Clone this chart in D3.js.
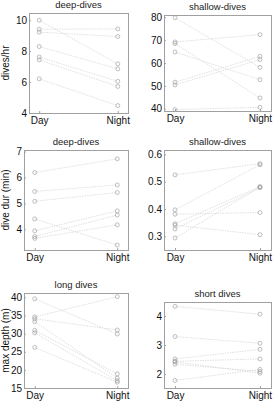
<!DOCTYPE html>
<html>
<head>
<meta charset="utf-8">
<script src="https://d3js.org/d3.v7.min.js"></script>
<style>
  body { margin: 0; background: #fff; }
  svg text { font-family: "Liberation Sans", Arial, sans-serif; }
</style>
</head>
<body>
<div id="chart"></div>
<script>
// x categories
const periods = ["Day", "Night"];

// dive rate (dives/hr)
const deepRateDay   = [10.0, 9.42, 9.23, 8.30, 7.62, 7.44, 6.21];
const deepRateNight = [7.18, 9.44, 8.95, 6.86, 6.05, 5.72, 4.48];
const shallowRateDay   = [79.8, 69.2, 68.5, 64.8, 51.6, 50.4, 39.6];
const shallowRateNight = [58.1, 72.4, 44.7, 52.7, 62.9, 61.5, 40.6];

// dive duration (min)
const deepDurDay   = [6.19, 5.46, 5.08, 4.40, 3.94, 3.72, 3.65];
const deepDurNight = [6.72, 5.71, 5.42, 3.39, 4.71, 4.55, 4.17];
const shallowDurDay   = [0.525, 0.397, 0.381, 0.346, 0.341, 0.327, 0.294];
const shallowDurNight = [0.566, 0.562, 0.387, 0.482, 0.306, 0.478, 0.480];

// max depth (m)
const longDepthDay   = [39.6, 34.6, 34.1, 33.3, 30.9, 30.2, 26.2];
const longDepthNight = [29.9, 40.2, 31.0, 17.7, 18.9, 17.0, 16.6];
const shortDepthDay   = [4.33, 3.29, 2.52, 2.44, 2.42, 2.34, 1.78];
const shortDepthNight = [4.06, 3.06, 2.85, 2.52, 2.03, 2.09, 2.16];

// y ticks
const ticksRateDeep = [4, 6, 8, 10];
const ticksRateShallow = [40, 50, 60, 70, 80];
const ticksDurDeep = [4, 5, 6, 7];
const ticksDurShallow = [0.3, 0.4, 0.5, 0.6];
const ticksDepthLong = [15, 20, 25, 30, 35, 40];
const ticksDepthShort = [2, 3, 4];

const panels = [
  { title: "deep-dives", ylab: "dives/hr", day: deepRateDay, night: deepRateNight,
    dom: [4, 10.47], ticks: ticksRateDeep, box: [29, 13, 128, 113], fmt: d => d },
  { title: "shallow-dives", ylab: null, day: shallowRateDay, night: shallowRateNight,
    dom: [39.0, 81.0], ticks: ticksRateShallow, box: [164, 15, 271, 111], fmt: d => d },
  { title: "deep-dives", ylab: "dive dur (min)", day: deepDurDay, night: deepDurNight,
    dom: [3.2, 7.06], ticks: ticksDurDeep, box: [24, 150, 128, 250], fmt: d => d },
  { title: "shallow-dives", ylab: null, day: shallowDurDay, night: shallowDurNight,
    dom: [0.25, 0.616], ticks: ticksDurShallow, box: [164, 150, 271, 250], fmt: d => d.toFixed(1) },
  { title: "long dives", ylab: "max depth (m)", day: longDepthDay, night: longDepthNight,
    dom: [15, 41.2], ticks: ticksDepthLong, box: [24, 293, 128, 388], fmt: d => d },
  { title: "short dives", ylab: null, day: shortDepthDay, night: shortDepthNight,
    dom: [1.52, 4.48], ticks: ticksDepthShort, box: [164, 302, 271, 388], fmt: d => d }
];

const svg = d3.select("#chart").append("svg")
  .attr("width", 275).attr("height", 410);

panels.forEach(p => {
  const [x0, y0, x1, y1] = p.box;
  const x = d3.scalePoint().domain(periods).range([x0, x1]).padding(0.13);
  const y = d3.scaleLinear().domain(p.dom).range([y1, y0]);
  const g = svg.append("g");

  // pair lines
  p.day.forEach((v, i) => {
    g.append("line")
      .attr("x1", x("Day")).attr("y1", y(v))
      .attr("x2", x("Night")).attr("y2", y(p.night[i]))
      .attr("stroke", "#d2d2d2").attr("stroke-width", 0.7)
      .attr("stroke-dasharray", "1.5,1");
  });

  // points
  periods.forEach(per => {
    const vals = per === "Day" ? p.day : p.night;
    g.selectAll(null).data(vals).enter().append("circle")
      .attr("cx", x(per)).attr("cy", d => y(d)).attr("r", 2)
      .attr("fill", "none").attr("stroke", "#959595").attr("stroke-width", 0.6);
  });

  // box
  g.append("rect")
    .attr("x", x0).attr("y", y0).attr("width", x1 - x0).attr("height", y1 - y0)
    .attr("fill", "none").attr("stroke", "#a0a0a0").attr("stroke-width", 1)
    .attr("shape-rendering", "crispEdges");

  // y axis
  const ya = g.append("g").attr("transform", `translate(${x0},0)`)
    .call(d3.axisLeft(y).tickValues(p.ticks).tickSize(-2).tickPadding(2).tickFormat(p.fmt));
  ya.select(".domain").remove();
  ya.selectAll("line").attr("stroke", "#a0a0a0");
  ya.selectAll("text").attr("font-size", 10).attr("fill", "#111")
    .attr("font-family", "Liberation Sans, Arial, sans-serif");

  // x axis
  const xa = g.append("g").attr("transform", `translate(0,${y1})`)
    .call(d3.axisBottom(x).tickSize(-2).tickPadding(4));
  xa.select(".domain").remove();
  xa.selectAll("line").attr("stroke", "#a0a0a0");
  xa.selectAll("text").attr("font-size", 10).attr("fill", "#111")
    .attr("font-family", "Liberation Sans, Arial, sans-serif");

  // title
  g.append("text")
    .attr("x", (x0 + x1) / 2).attr("y", y0 - 5)
    .attr("text-anchor", "middle").attr("font-size", 9.5).attr("fill", "#222")
    .text(p.title);

  if (p.ylab) {
    g.append("text")
      .attr("transform", `translate(9,${(y0 + y1) / 2}) rotate(-90)`)
      .attr("text-anchor", "middle").attr("font-size", 10).attr("fill", "#111")
      .text(p.ylab);
  }
});
</script>
</body>
</html>
